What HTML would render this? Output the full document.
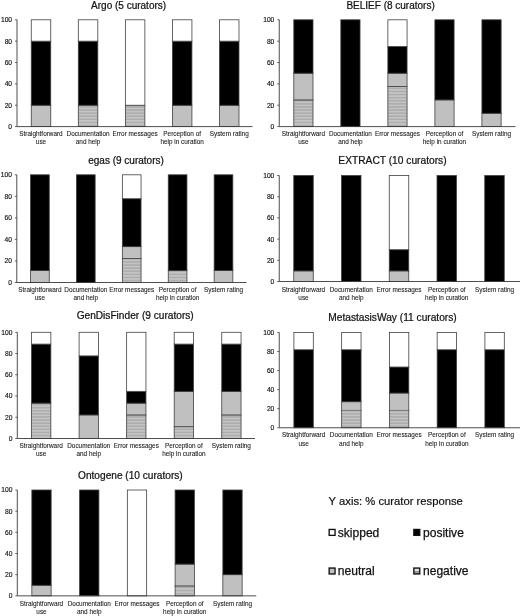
<!DOCTYPE html>
<html><head><meta charset="utf-8"><title>Curator responses</title>
<style>
html,body{margin:0;padding:0;background:#fff;}
body{width:520px;height:616px;overflow:hidden;font-family:"Liberation Sans",sans-serif;}
svg{display:block;will-change:transform;font-family:"Liberation Sans",sans-serif;}
.t{font-size:10.0px;fill:#111;stroke:#111;stroke-width:0.22px;}
.k{font-size:6.7px;fill:#111;stroke:#111;stroke-width:0.15px;}
.c{font-size:6.4px;fill:#1a1a1a;stroke:#1a1a1a;stroke-width:0.08px;}
.l{font-size:12.05px;fill:#111;stroke:#111;stroke-width:0.25px;}
</style></head><body>
<svg width="520" height="616" viewBox="0 0 520 616">
<defs>
<pattern id="hatch" width="4" height="3.1" patternUnits="userSpaceOnUse">
<rect width="4" height="3.1" fill="#c4c4c4"/>
<rect y="1" width="4" height="1.1" fill="#a4a4a4"/>
</pattern>
</defs>
<rect width="520" height="616" fill="#fff"/>
<g>
<text class="t" style="font-size:10.0px" x="128.60" y="9.00" text-anchor="middle">Argo (5 curators)</text>
<rect x="31.25" y="105.24" width="19.50" height="21.36" fill="#c0c0c0" stroke="#404040" stroke-width="0.8"/>
<rect x="31.25" y="41.16" width="19.50" height="64.08" fill="#000000" stroke="#404040" stroke-width="0.8"/>
<rect x="31.25" y="19.80" width="19.50" height="21.36" fill="#ffffff" stroke="#404040" stroke-width="0.8"/>
<rect x="78.31" y="105.24" width="19.50" height="21.36" fill="url(#hatch)" stroke="#404040" stroke-width="0.8"/>
<rect x="78.31" y="41.16" width="19.50" height="64.08" fill="#000000" stroke="#404040" stroke-width="0.8"/>
<rect x="78.31" y="19.80" width="19.50" height="21.36" fill="#ffffff" stroke="#404040" stroke-width="0.8"/>
<rect x="125.37" y="105.24" width="19.50" height="21.36" fill="url(#hatch)" stroke="#404040" stroke-width="0.8"/>
<rect x="125.37" y="19.80" width="19.50" height="85.44" fill="#ffffff" stroke="#404040" stroke-width="0.8"/>
<rect x="172.43" y="105.24" width="19.50" height="21.36" fill="#c0c0c0" stroke="#404040" stroke-width="0.8"/>
<rect x="172.43" y="41.16" width="19.50" height="64.08" fill="#000000" stroke="#404040" stroke-width="0.8"/>
<rect x="172.43" y="19.80" width="19.50" height="21.36" fill="#ffffff" stroke="#404040" stroke-width="0.8"/>
<rect x="219.49" y="105.24" width="19.50" height="21.36" fill="#c0c0c0" stroke="#404040" stroke-width="0.8"/>
<rect x="219.49" y="41.16" width="19.50" height="64.08" fill="#000000" stroke="#404040" stroke-width="0.8"/>
<rect x="219.49" y="19.80" width="19.50" height="21.36" fill="#ffffff" stroke="#404040" stroke-width="0.8"/>
<path d="M17.00 19.80V126.60H252.50" fill="none" stroke="#3a3a3a" stroke-width="0.9"/>
<path d="M17.00 126.60h-2" stroke="#3a3a3a" stroke-width="0.8"/>
<text class="k" x="12.10" y="129.00" text-anchor="end">0</text>
<path d="M17.00 105.24h-2" stroke="#3a3a3a" stroke-width="0.8"/>
<text class="k" x="12.10" y="107.64" text-anchor="end">20</text>
<path d="M17.00 83.88h-2" stroke="#3a3a3a" stroke-width="0.8"/>
<text class="k" x="12.10" y="86.28" text-anchor="end">40</text>
<path d="M17.00 62.52h-2" stroke="#3a3a3a" stroke-width="0.8"/>
<text class="k" x="12.10" y="64.92" text-anchor="end">60</text>
<path d="M17.00 41.16h-2" stroke="#3a3a3a" stroke-width="0.8"/>
<text class="k" x="12.10" y="43.56" text-anchor="end">80</text>
<path d="M17.00 19.80h-2" stroke="#3a3a3a" stroke-width="0.8"/>
<text class="k" x="12.10" y="22.20" text-anchor="end">100</text>
<text class="c" x="41.00" y="136.30" text-anchor="middle">Straightforward</text>
<text class="c" x="41.00" y="144.40" text-anchor="middle">use</text>
<text class="c" x="88.06" y="136.30" text-anchor="middle">Documentation</text>
<text class="c" x="88.06" y="144.40" text-anchor="middle">and help</text>
<text class="c" x="135.12" y="136.30" text-anchor="middle">Error messages</text>
<text class="c" x="182.18" y="136.30" text-anchor="middle">Perception of</text>
<text class="c" x="182.18" y="144.40" text-anchor="middle">help in curation</text>
<text class="c" x="229.24" y="136.30" text-anchor="middle">System rating</text>
</g>
<g>
<text class="t" style="font-size:10.0px" x="390.60" y="9.05" text-anchor="middle">BELIEF (8 curators)</text>
<rect x="293.80" y="99.90" width="19.20" height="26.70" fill="url(#hatch)" stroke="#404040" stroke-width="0.8"/>
<rect x="293.80" y="73.20" width="19.20" height="26.70" fill="#c0c0c0" stroke="#404040" stroke-width="0.8"/>
<rect x="293.80" y="19.80" width="19.20" height="53.40" fill="#000000" stroke="#404040" stroke-width="0.8"/>
<rect x="340.83" y="19.80" width="19.20" height="106.80" fill="#000000" stroke="#404040" stroke-width="0.8"/>
<rect x="387.86" y="86.55" width="19.20" height="40.05" fill="url(#hatch)" stroke="#404040" stroke-width="0.8"/>
<rect x="387.86" y="73.20" width="19.20" height="13.35" fill="#c0c0c0" stroke="#404040" stroke-width="0.8"/>
<rect x="387.86" y="46.50" width="19.20" height="26.70" fill="#000000" stroke="#404040" stroke-width="0.8"/>
<rect x="387.86" y="19.80" width="19.20" height="26.70" fill="#ffffff" stroke="#404040" stroke-width="0.8"/>
<rect x="434.89" y="99.90" width="19.20" height="26.70" fill="#c0c0c0" stroke="#404040" stroke-width="0.8"/>
<rect x="434.89" y="19.80" width="19.20" height="80.10" fill="#000000" stroke="#404040" stroke-width="0.8"/>
<rect x="481.92" y="113.25" width="19.20" height="13.35" fill="#c0c0c0" stroke="#404040" stroke-width="0.8"/>
<rect x="481.92" y="19.80" width="19.20" height="93.45" fill="#000000" stroke="#404040" stroke-width="0.8"/>
<path d="M279.25 19.80V126.60H515.50" fill="none" stroke="#3a3a3a" stroke-width="0.9"/>
<path d="M279.25 126.60h-2" stroke="#3a3a3a" stroke-width="0.8"/>
<text class="k" x="274.35" y="129.00" text-anchor="end">0</text>
<path d="M279.25 105.24h-2" stroke="#3a3a3a" stroke-width="0.8"/>
<text class="k" x="274.35" y="107.64" text-anchor="end">20</text>
<path d="M279.25 83.88h-2" stroke="#3a3a3a" stroke-width="0.8"/>
<text class="k" x="274.35" y="86.28" text-anchor="end">40</text>
<path d="M279.25 62.52h-2" stroke="#3a3a3a" stroke-width="0.8"/>
<text class="k" x="274.35" y="64.92" text-anchor="end">60</text>
<path d="M279.25 41.16h-2" stroke="#3a3a3a" stroke-width="0.8"/>
<text class="k" x="274.35" y="43.56" text-anchor="end">80</text>
<path d="M279.25 19.80h-2" stroke="#3a3a3a" stroke-width="0.8"/>
<text class="k" x="274.35" y="22.20" text-anchor="end">100</text>
<text class="c" x="303.40" y="136.30" text-anchor="middle">Straightforward</text>
<text class="c" x="303.40" y="144.40" text-anchor="middle">use</text>
<text class="c" x="350.43" y="136.30" text-anchor="middle">Documentation</text>
<text class="c" x="350.43" y="144.40" text-anchor="middle">and help</text>
<text class="c" x="397.46" y="136.30" text-anchor="middle">Error messages</text>
<text class="c" x="444.49" y="136.30" text-anchor="middle">Perception of</text>
<text class="c" x="444.49" y="144.40" text-anchor="middle">help in curation</text>
<text class="c" x="491.52" y="136.30" text-anchor="middle">System rating</text>
</g>
<g>
<text class="t" style="font-size:10.0px" x="126.00" y="164.00" text-anchor="middle">egas (9 curators)</text>
<rect x="30.55" y="270.55" width="18.70" height="11.95" fill="#c0c0c0" stroke="#404040" stroke-width="0.8"/>
<rect x="30.55" y="174.80" width="18.70" height="95.75" fill="#000000" stroke="#404040" stroke-width="0.8"/>
<rect x="76.45" y="174.80" width="18.70" height="107.70" fill="#000000" stroke="#404040" stroke-width="0.8"/>
<rect x="122.35" y="258.59" width="18.70" height="23.91" fill="url(#hatch)" stroke="#404040" stroke-width="0.8"/>
<rect x="122.35" y="246.64" width="18.70" height="11.95" fill="#c0c0c0" stroke="#404040" stroke-width="0.8"/>
<rect x="122.35" y="198.71" width="18.70" height="47.93" fill="#000000" stroke="#404040" stroke-width="0.8"/>
<rect x="122.35" y="174.80" width="18.70" height="23.91" fill="#ffffff" stroke="#404040" stroke-width="0.8"/>
<rect x="168.25" y="270.55" width="18.70" height="11.95" fill="url(#hatch)" stroke="#404040" stroke-width="0.8"/>
<rect x="168.25" y="174.80" width="18.70" height="95.75" fill="#000000" stroke="#404040" stroke-width="0.8"/>
<rect x="214.15" y="270.55" width="18.70" height="11.95" fill="#c0c0c0" stroke="#404040" stroke-width="0.8"/>
<rect x="214.15" y="174.80" width="18.70" height="95.75" fill="#000000" stroke="#404040" stroke-width="0.8"/>
<path d="M16.80 174.80V282.50H246.50" fill="none" stroke="#3a3a3a" stroke-width="0.9"/>
<path d="M16.80 282.50h-2" stroke="#3a3a3a" stroke-width="0.8"/>
<text class="k" x="11.90" y="284.90" text-anchor="end">0</text>
<path d="M16.80 260.96h-2" stroke="#3a3a3a" stroke-width="0.8"/>
<text class="k" x="11.90" y="263.36" text-anchor="end">20</text>
<path d="M16.80 239.42h-2" stroke="#3a3a3a" stroke-width="0.8"/>
<text class="k" x="11.90" y="241.82" text-anchor="end">40</text>
<path d="M16.80 217.88h-2" stroke="#3a3a3a" stroke-width="0.8"/>
<text class="k" x="11.90" y="220.28" text-anchor="end">60</text>
<path d="M16.80 196.34h-2" stroke="#3a3a3a" stroke-width="0.8"/>
<text class="k" x="11.90" y="198.74" text-anchor="end">80</text>
<path d="M16.80 174.80h-2" stroke="#3a3a3a" stroke-width="0.8"/>
<text class="k" x="11.90" y="177.20" text-anchor="end">100</text>
<text class="c" x="39.90" y="292.20" text-anchor="middle">Straightforward</text>
<text class="c" x="39.90" y="300.30" text-anchor="middle">use</text>
<text class="c" x="85.80" y="292.20" text-anchor="middle">Documentation</text>
<text class="c" x="85.80" y="300.30" text-anchor="middle">and help</text>
<text class="c" x="131.70" y="292.20" text-anchor="middle">Error messages</text>
<text class="c" x="177.60" y="292.20" text-anchor="middle">Perception of</text>
<text class="c" x="177.60" y="300.30" text-anchor="middle">help in curation</text>
<text class="c" x="223.50" y="292.20" text-anchor="middle">System rating</text>
</g>
<g>
<text class="t" style="font-size:10.22px" x="392.50" y="164.30" text-anchor="middle">EXTRACT (10 curators)</text>
<rect x="293.75" y="270.90" width="19.50" height="10.60" fill="#c0c0c0" stroke="#404040" stroke-width="0.8"/>
<rect x="293.75" y="175.50" width="19.50" height="95.40" fill="#000000" stroke="#404040" stroke-width="0.8"/>
<rect x="341.50" y="175.50" width="19.50" height="106.00" fill="#000000" stroke="#404040" stroke-width="0.8"/>
<rect x="389.25" y="270.90" width="19.50" height="10.60" fill="#c0c0c0" stroke="#404040" stroke-width="0.8"/>
<rect x="389.25" y="249.70" width="19.50" height="21.20" fill="#000000" stroke="#404040" stroke-width="0.8"/>
<rect x="389.25" y="175.50" width="19.50" height="74.20" fill="#ffffff" stroke="#404040" stroke-width="0.8"/>
<rect x="437.00" y="175.50" width="19.50" height="106.00" fill="#000000" stroke="#404040" stroke-width="0.8"/>
<rect x="484.75" y="175.50" width="19.50" height="106.00" fill="#000000" stroke="#404040" stroke-width="0.8"/>
<path d="M279.25 175.50V281.50H520.00" fill="none" stroke="#3a3a3a" stroke-width="0.9"/>
<path d="M279.25 281.50h-2" stroke="#3a3a3a" stroke-width="0.8"/>
<text class="k" x="274.35" y="283.90" text-anchor="end">0</text>
<path d="M279.25 260.30h-2" stroke="#3a3a3a" stroke-width="0.8"/>
<text class="k" x="274.35" y="262.70" text-anchor="end">20</text>
<path d="M279.25 239.10h-2" stroke="#3a3a3a" stroke-width="0.8"/>
<text class="k" x="274.35" y="241.50" text-anchor="end">40</text>
<path d="M279.25 217.90h-2" stroke="#3a3a3a" stroke-width="0.8"/>
<text class="k" x="274.35" y="220.30" text-anchor="end">60</text>
<path d="M279.25 196.70h-2" stroke="#3a3a3a" stroke-width="0.8"/>
<text class="k" x="274.35" y="199.10" text-anchor="end">80</text>
<path d="M279.25 175.50h-2" stroke="#3a3a3a" stroke-width="0.8"/>
<text class="k" x="274.35" y="177.90" text-anchor="end">100</text>
<text class="c" x="303.50" y="291.55" text-anchor="middle">Straightforward</text>
<text class="c" x="303.50" y="299.65" text-anchor="middle">use</text>
<text class="c" x="351.25" y="291.55" text-anchor="middle">Documentation</text>
<text class="c" x="351.25" y="299.65" text-anchor="middle">and help</text>
<text class="c" x="399.00" y="291.55" text-anchor="middle">Error messages</text>
<text class="c" x="446.75" y="291.55" text-anchor="middle">Perception of</text>
<text class="c" x="446.75" y="299.65" text-anchor="middle">help in curation</text>
<text class="c" x="494.50" y="291.55" text-anchor="middle">System rating</text>
</g>
<g>
<text class="t" style="font-size:10.15px" x="135.20" y="319.00" text-anchor="middle">GenDisFinder (9 curators)</text>
<rect x="31.55" y="403.14" width="19.30" height="35.36" fill="url(#hatch)" stroke="#404040" stroke-width="0.8"/>
<rect x="31.55" y="344.09" width="19.30" height="59.05" fill="#000000" stroke="#404040" stroke-width="0.8"/>
<rect x="31.55" y="332.30" width="19.30" height="11.79" fill="#ffffff" stroke="#404040" stroke-width="0.8"/>
<rect x="79.10" y="414.92" width="19.30" height="23.58" fill="#c0c0c0" stroke="#404040" stroke-width="0.8"/>
<rect x="79.10" y="355.88" width="19.30" height="59.05" fill="#000000" stroke="#404040" stroke-width="0.8"/>
<rect x="79.10" y="332.30" width="19.30" height="23.58" fill="#ffffff" stroke="#404040" stroke-width="0.8"/>
<rect x="126.65" y="414.92" width="19.30" height="23.58" fill="url(#hatch)" stroke="#404040" stroke-width="0.8"/>
<rect x="126.65" y="403.14" width="19.30" height="11.79" fill="#c0c0c0" stroke="#404040" stroke-width="0.8"/>
<rect x="126.65" y="391.35" width="19.30" height="11.79" fill="#000000" stroke="#404040" stroke-width="0.8"/>
<rect x="126.65" y="332.30" width="19.30" height="59.05" fill="#ffffff" stroke="#404040" stroke-width="0.8"/>
<rect x="174.20" y="426.71" width="19.30" height="11.79" fill="url(#hatch)" stroke="#404040" stroke-width="0.8"/>
<rect x="174.20" y="391.35" width="19.30" height="35.36" fill="#c0c0c0" stroke="#404040" stroke-width="0.8"/>
<rect x="174.20" y="344.09" width="19.30" height="47.26" fill="#000000" stroke="#404040" stroke-width="0.8"/>
<rect x="174.20" y="332.30" width="19.30" height="11.79" fill="#ffffff" stroke="#404040" stroke-width="0.8"/>
<rect x="221.75" y="414.92" width="19.30" height="23.58" fill="url(#hatch)" stroke="#404040" stroke-width="0.8"/>
<rect x="221.75" y="391.35" width="19.30" height="23.58" fill="#c0c0c0" stroke="#404040" stroke-width="0.8"/>
<rect x="221.75" y="344.09" width="19.30" height="47.26" fill="#000000" stroke="#404040" stroke-width="0.8"/>
<rect x="221.75" y="332.30" width="19.30" height="11.79" fill="#ffffff" stroke="#404040" stroke-width="0.8"/>
<path d="M17.30 332.30V438.50H255.00" fill="none" stroke="#3a3a3a" stroke-width="0.9"/>
<path d="M17.30 438.50h-2" stroke="#3a3a3a" stroke-width="0.8"/>
<text class="k" x="12.40" y="440.90" text-anchor="end">0</text>
<path d="M17.30 417.26h-2" stroke="#3a3a3a" stroke-width="0.8"/>
<text class="k" x="12.40" y="419.66" text-anchor="end">20</text>
<path d="M17.30 396.02h-2" stroke="#3a3a3a" stroke-width="0.8"/>
<text class="k" x="12.40" y="398.42" text-anchor="end">40</text>
<path d="M17.30 374.78h-2" stroke="#3a3a3a" stroke-width="0.8"/>
<text class="k" x="12.40" y="377.18" text-anchor="end">60</text>
<path d="M17.30 353.54h-2" stroke="#3a3a3a" stroke-width="0.8"/>
<text class="k" x="12.40" y="355.94" text-anchor="end">80</text>
<path d="M17.30 332.30h-2" stroke="#3a3a3a" stroke-width="0.8"/>
<text class="k" x="12.40" y="334.70" text-anchor="end">100</text>
<text class="c" x="41.20" y="448.20" text-anchor="middle">Straightforward</text>
<text class="c" x="41.20" y="456.30" text-anchor="middle">use</text>
<text class="c" x="88.75" y="448.20" text-anchor="middle">Documentation</text>
<text class="c" x="88.75" y="456.30" text-anchor="middle">and help</text>
<text class="c" x="136.30" y="448.20" text-anchor="middle">Error messages</text>
<text class="c" x="183.85" y="448.20" text-anchor="middle">Perception of</text>
<text class="c" x="183.85" y="456.30" text-anchor="middle">help in curation</text>
<text class="c" x="231.40" y="448.20" text-anchor="middle">System rating</text>
</g>
<g>
<text class="t" style="font-size:10.2px" x="392.50" y="321.00" text-anchor="middle">MetastasisWay (11 curators)</text>
<rect x="293.90" y="349.75" width="19.40" height="78.00" fill="#000000" stroke="#404040" stroke-width="0.8"/>
<rect x="293.90" y="332.40" width="19.40" height="17.35" fill="#ffffff" stroke="#404040" stroke-width="0.8"/>
<rect x="341.65" y="410.40" width="19.40" height="17.35" fill="url(#hatch)" stroke="#404040" stroke-width="0.8"/>
<rect x="341.65" y="401.72" width="19.40" height="8.68" fill="#c0c0c0" stroke="#404040" stroke-width="0.8"/>
<rect x="341.65" y="349.75" width="19.40" height="51.97" fill="#000000" stroke="#404040" stroke-width="0.8"/>
<rect x="341.65" y="332.40" width="19.40" height="17.35" fill="#ffffff" stroke="#404040" stroke-width="0.8"/>
<rect x="389.40" y="410.40" width="19.40" height="17.35" fill="url(#hatch)" stroke="#404040" stroke-width="0.8"/>
<rect x="389.40" y="393.04" width="19.40" height="17.35" fill="#c0c0c0" stroke="#404040" stroke-width="0.8"/>
<rect x="389.40" y="367.01" width="19.40" height="26.03" fill="#000000" stroke="#404040" stroke-width="0.8"/>
<rect x="389.40" y="332.40" width="19.40" height="34.61" fill="#ffffff" stroke="#404040" stroke-width="0.8"/>
<rect x="437.15" y="349.75" width="19.40" height="78.00" fill="#000000" stroke="#404040" stroke-width="0.8"/>
<rect x="437.15" y="332.40" width="19.40" height="17.35" fill="#ffffff" stroke="#404040" stroke-width="0.8"/>
<rect x="484.90" y="349.75" width="19.40" height="78.00" fill="#000000" stroke="#404040" stroke-width="0.8"/>
<rect x="484.90" y="332.40" width="19.40" height="17.35" fill="#ffffff" stroke="#404040" stroke-width="0.8"/>
<path d="M342.05 410.40h18.60" stroke="#8c8c8c" stroke-width="0.9"/>
<path d="M389.80 410.40h18.60" stroke="#8c8c8c" stroke-width="0.9"/>
<path d="M279.25 332.40V427.75H520.00" fill="none" stroke="#3a3a3a" stroke-width="0.9"/>
<path d="M279.25 427.75h-2" stroke="#3a3a3a" stroke-width="0.8"/>
<text class="k" x="274.35" y="430.15" text-anchor="end">0</text>
<path d="M279.25 408.68h-2" stroke="#3a3a3a" stroke-width="0.8"/>
<text class="k" x="274.35" y="411.08" text-anchor="end">20</text>
<path d="M279.25 389.61h-2" stroke="#3a3a3a" stroke-width="0.8"/>
<text class="k" x="274.35" y="392.01" text-anchor="end">40</text>
<path d="M279.25 370.54h-2" stroke="#3a3a3a" stroke-width="0.8"/>
<text class="k" x="274.35" y="372.94" text-anchor="end">60</text>
<path d="M279.25 351.47h-2" stroke="#3a3a3a" stroke-width="0.8"/>
<text class="k" x="274.35" y="353.87" text-anchor="end">80</text>
<path d="M279.25 332.40h-2" stroke="#3a3a3a" stroke-width="0.8"/>
<text class="k" x="274.35" y="334.80" text-anchor="end">100</text>
<text class="c" x="303.60" y="437.45" text-anchor="middle">Straightforward</text>
<text class="c" x="303.60" y="445.55" text-anchor="middle">use</text>
<text class="c" x="351.35" y="437.45" text-anchor="middle">Documentation</text>
<text class="c" x="351.35" y="445.55" text-anchor="middle">and help</text>
<text class="c" x="399.10" y="437.45" text-anchor="middle">Error messages</text>
<text class="c" x="446.85" y="437.45" text-anchor="middle">Perception of</text>
<text class="c" x="446.85" y="445.55" text-anchor="middle">help in curation</text>
<text class="c" x="494.60" y="437.45" text-anchor="middle">System rating</text>
</g>
<g>
<text class="t" style="font-size:10.15px" x="130.40" y="478.50" text-anchor="middle">Ontogene (10 curators)</text>
<rect x="31.85" y="585.26" width="19.30" height="10.59" fill="#c0c0c0" stroke="#404040" stroke-width="0.8"/>
<rect x="31.85" y="490.00" width="19.30" height="95.26" fill="#000000" stroke="#404040" stroke-width="0.8"/>
<rect x="79.60" y="490.00" width="19.30" height="105.85" fill="#000000" stroke="#404040" stroke-width="0.8"/>
<rect x="127.35" y="490.00" width="19.30" height="105.85" fill="#ffffff" stroke="#404040" stroke-width="0.8"/>
<rect x="175.10" y="585.90" width="19.30" height="9.95" fill="url(#hatch)" stroke="#404040" stroke-width="0.8"/>
<rect x="175.10" y="564.10" width="19.30" height="21.81" fill="#c0c0c0" stroke="#404040" stroke-width="0.8"/>
<rect x="175.10" y="490.00" width="19.30" height="74.10" fill="#000000" stroke="#404040" stroke-width="0.8"/>
<rect x="222.85" y="574.68" width="19.30" height="21.17" fill="#c0c0c0" stroke="#404040" stroke-width="0.8"/>
<rect x="222.85" y="490.00" width="19.30" height="84.68" fill="#000000" stroke="#404040" stroke-width="0.8"/>
<path d="M17.30 490.00V595.85H256.25" fill="none" stroke="#3a3a3a" stroke-width="0.9"/>
<path d="M17.30 595.85h-2" stroke="#3a3a3a" stroke-width="0.8"/>
<text class="k" x="12.40" y="598.25" text-anchor="end">0</text>
<path d="M17.30 574.68h-2" stroke="#3a3a3a" stroke-width="0.8"/>
<text class="k" x="12.40" y="577.08" text-anchor="end">20</text>
<path d="M17.30 553.51h-2" stroke="#3a3a3a" stroke-width="0.8"/>
<text class="k" x="12.40" y="555.91" text-anchor="end">40</text>
<path d="M17.30 532.34h-2" stroke="#3a3a3a" stroke-width="0.8"/>
<text class="k" x="12.40" y="534.74" text-anchor="end">60</text>
<path d="M17.30 511.17h-2" stroke="#3a3a3a" stroke-width="0.8"/>
<text class="k" x="12.40" y="513.57" text-anchor="end">80</text>
<path d="M17.30 490.00h-2" stroke="#3a3a3a" stroke-width="0.8"/>
<text class="k" x="12.40" y="492.40" text-anchor="end">100</text>
<text class="c" x="41.50" y="605.55" text-anchor="middle">Straightforward</text>
<text class="c" x="41.50" y="613.65" text-anchor="middle">use</text>
<text class="c" x="89.25" y="605.55" text-anchor="middle">Documentation</text>
<text class="c" x="89.25" y="613.65" text-anchor="middle">and help</text>
<text class="c" x="137.00" y="605.55" text-anchor="middle">Error messages</text>
<text class="c" x="184.75" y="605.55" text-anchor="middle">Perception of</text>
<text class="c" x="184.75" y="613.65" text-anchor="middle">help in curation</text>
<text class="c" x="232.50" y="605.55" text-anchor="middle">System rating</text>
</g>
<text x="328.6" y="504.6" style="font-size:11.25px;fill:#111;stroke:#111;stroke-width:0.2px">Y axis: % curator response</text>
<rect x="329.15" y="529.45" width="5.90" height="5.90" fill="#fff" stroke="#111" stroke-width="1.35"/>
<text class="l" x="337.80" y="536.70">skipped</text>
<rect x="413.85" y="529.45" width="5.90" height="5.90" fill="#000" stroke="#111" stroke-width="1.35"/>
<text class="l" x="423.00" y="536.70">positive</text>
<rect x="329.15" y="568.05" width="5.90" height="5.90" fill="#c0c0c0" stroke="#111" stroke-width="1.35"/>
<text class="l" x="337.80" y="575.30">neutral</text>
<rect x="413.85" y="568.05" width="5.90" height="2.95" fill="#dcdcdc"/>
<rect x="413.85" y="571.00" width="5.90" height="2.95" fill="#989898"/>
<rect x="413.85" y="568.05" width="5.90" height="5.90" fill="none" stroke="#111" stroke-width="1.35"/>
<text class="l" x="423.00" y="575.30">negative</text>
</svg></body></html>
